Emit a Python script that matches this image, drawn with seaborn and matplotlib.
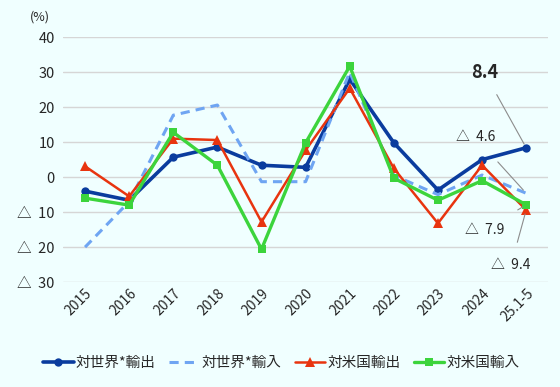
import matplotlib
matplotlib.use("Agg")
import matplotlib.pyplot as plt
import seaborn as sns
import pandas as pd

# ---------------- datos ----------------
years = ["2015", "2016", "2017", "2018", "2019", "2020", "2021", "2022", "2023", "2024", "25.1-5"]
world_exp = [-4.0, -6.6, 5.7, 8.6, 3.4, 2.8, 28.0, 9.8, -3.7, 5.0, 8.4]
world_imp = [-20.0, -7.0, 17.7, 20.6, -1.3, -1.3, 30.0, 0.5, -5.0, 0.6, -4.6]
us_exp = [3.1, -5.5, 11.0, 10.6, -12.8, 7.7, 25.4, 2.5, -13.2, 3.4, -9.4]
us_imp = [-6.0, -8.0, 12.8, 3.4, -20.6, 9.8, 31.7, -0.3, -6.6, -1.0, -7.9]

series_names = ["対世界*輸出", "対世界*輸入", "対米国輸出", "対米国輸入"]
colores = ["#0A3C9E", "#6FA5F2", "#E8340F", "#3CD43C"]

yticks = [40, 30, 20, 10, 0, -10, -20, -30]
ytick_labels = ["40", "30", "20", "10", "0", "△  10", "△  20", "△  30"]

bg = "#F0FFFF"

sns.set_theme(style="white")
plt.rcParams['font.family'] = ['Noto Sans CJK JP', 'DejaVu Sans']

fig = plt.figure(figsize=(5.6, 3.87), dpi=100, facecolor=bg)
ax = fig.add_axes([0.1125, 0.271, 0.8665, 0.633])
ax.set_facecolor(bg)

df = pd.DataFrame({
    "x": list(range(len(years))) * 4,
    "valor": world_exp + world_imp + us_exp + us_imp,
    "serie": sum([[s] * len(years) for s in series_names], []),
})

estilos = [dict(marker="o", markersize=6, linestyle="-", lw=2.6),
           dict(marker=None, linestyle=(0, (3, 2)), lw=2.2),
           dict(marker="^", markersize=6.5, linestyle="-", lw=1.8),
           dict(marker="s", markersize=5.5, linestyle="-", lw=2.4)]

for nombre, color, est in zip(series_names, colores, estilos):
    sub = df[df["serie"] == nombre]
    sns.lineplot(data=sub, x="x", y="valor", ax=ax, color=color, label=nombre,
                 markeredgewidth=0, **est)

ax.set_xlim(-0.5, len(years) - 0.5)
ax.set_ylim(-30, 40)
ax.set_yticks(yticks)
ax.set_yticklabels(ytick_labels, fontsize=10.5)
ax.set_xticks(range(len(years)))
ax.set_xticklabels(years, rotation=45, ha="right", rotation_mode="anchor", fontsize=10)
ax.tick_params(axis="y", length=0, pad=6)
ax.tick_params(axis="x", length=0, pad=3)
ax.set_xlabel("")
ax.set_ylabel("")
ax.grid(axis="y", color="#D6D6D6", lw=1)
ax.set_axisbelow(True)
for s in ax.spines.values():
    s.set_visible(False)

fig.text(0.072, 0.955, "(%)", fontsize=9, ha="center", va="center")

# anotaciones del ultimo punto
gris = "#8C8C8C"
last = len(years) - 1
ax.annotate("8.4", xy=(last, world_exp[-1]), xytext=(9.05, 30), fontsize=13, fontweight="bold",
            ha="center", va="center",
            arrowprops=dict(arrowstyle="-", color=gris, lw=0.8, shrinkA=8, shrinkB=3))
ax.annotate("△  4.6", xy=(last, world_imp[-1]), xytext=(8.85, 11.4), fontsize=10,
            ha="center", va="center",
            arrowprops=dict(arrowstyle="-", color=gris, lw=0.8, shrinkA=14, shrinkB=3))
ax.annotate("△  7.9", xy=(last, us_imp[-1]), xytext=(9.05, -15.2), fontsize=10,
            ha="center", va="center",
            arrowprops=dict(arrowstyle="-", color=gris, lw=0.8, shrinkA=14, shrinkB=3))
ax.annotate("△  9.4", xy=(last, us_exp[-1]), xytext=(9.66, -25), fontsize=10,
            ha="center", va="center",
            arrowprops=dict(arrowstyle="-", color=gris, lw=0.8, shrinkA=9, shrinkB=3))

ax.legend(loc="center", bbox_to_anchor=(0.45, -0.33), ncol=4, frameon=False,
          fontsize=10.5, handlelength=2.1, handletextpad=0.15, columnspacing=0.9)

fig.savefig("out.png", dpi=100, facecolor=bg)
